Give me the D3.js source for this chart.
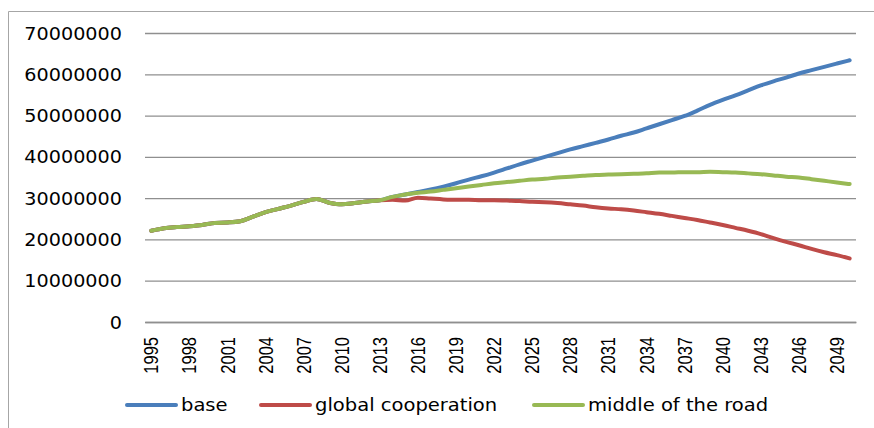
<!DOCTYPE html>
<html>
<head>
<meta charset="utf-8">
<script src="https://cdn.jsdelivr.net/npm/d3@7"></script>
<style>
  body { margin: 0; background: #fff; }
  svg { display: block; }
</style>
</head>
<body>
<svg id="chart" width="874" height="428"></svg>
<script>
const years = d3.range(1995, 2051);
const yTicks = [0, 10000000, 20000000, 30000000, 40000000, 50000000, 60000000, 70000000];
const seriesNames = ["base", "global cooperation", "middle of the road"];
const seriesColors = ["#4A7EBB", "#BE4B48", "#98B954"];

// values in millions
const history = [22.1, 22.7, 23.0, 23.2, 23.5, 24.0, 24.1, 24.4, 25.5, 26.6, 27.4, 28.2, 29.1, 29.8, 28.9, 28.5, 28.8, 29.2, 29.5];
const baseFuture = [30.3, 30.9, 31.5, 32.1, 32.8, 33.6, 34.5, 35.3, 36.2, 37.2, 38.2, 39.1, 40.0, 40.9, 41.8, 42.6, 43.4,
  44.2, 45.1, 45.9, 46.9, 47.9, 48.9, 49.9, 51.2, 52.6, 53.8, 54.9, 56.1, 57.3, 58.3, 59.2, 60.2, 61.0, 61.8, 62.6, 63.4];
const globalFuture = [29.6, 29.4, 30.1, 29.9, 29.7, 29.6, 29.6, 29.5, 29.5, 29.4, 29.3, 29.1, 29.0, 28.8, 28.5, 28.2, 27.8,
  27.5, 27.3, 27.0, 26.6, 26.2, 25.7, 25.2, 24.7, 24.1, 23.5, 22.8, 22.1, 21.3, 20.3, 19.4, 18.6, 17.7, 16.9, 16.2, 15.4];
const middleFuture = [30.3, 30.9, 31.3, 31.6, 32.0, 32.4, 32.8, 33.2, 33.6, 33.9, 34.2, 34.5, 34.7, 35.0, 35.2, 35.4, 35.6,
  35.7, 35.8, 35.9, 36.0, 36.2, 36.2, 36.3, 36.3, 36.4, 36.3, 36.2, 36.0, 35.8, 35.5, 35.2, 35.0, 34.6, 34.2, 33.8, 33.4];

const baseValues = history.concat(baseFuture).map(v => v * 1e6);
const globalValues = history.concat(globalFuture).map(v => v * 1e6);
const middleValues = history.concat(middleFuture).map(v => v * 1e6);
const seriesValues = [baseValues, globalValues, middleValues];
const xTickLabels = years.filter((yr, i) => i % 3 === 0);

(function () {
const svg = d3.select("#chart");
const mLeft = 145, mRight = 856, mTop = 33, mBottom = 322;

// frame
svg.append("path")
  .attr("d", "M8.5,428 L8.5,11.5 L874,11.5")
  .attr("fill", "none").attr("stroke", "#a6a6a6").attr("stroke-width", 1);

const x = d3.scaleBand().domain(years).range([mLeft, mRight]).padding(0);
const y = d3.scaleLinear().domain([0, 70000000]).range([mBottom, mTop]);
const cx = d => x(d) + x.bandwidth() / 2;

// gridlines + y labels
const yAxis = svg.append("g").attr("transform", `translate(${mLeft},0)`)
  .call(d3.axisLeft(y).tickValues(yTicks).tickSize(-(mRight - mLeft)).tickFormat(d3.format("d")));
yAxis.select(".domain").remove();
yAxis.selectAll(".tick line").attr("stroke", "#8f8f8f").attr("stroke-width", 1.3);
yAxis.selectAll(".tick text")
  .attr("x", 0).attr("dy", "0.36em")
  .attr("transform", "translate(-23,0) scale(1.13,1)")
  .attr("fill", "#000")
  .style("font-family", "'DejaVu Sans', sans-serif").style("font-size", "17px");

// x axis
const xAxis = svg.append("g").attr("transform", `translate(0,${mBottom})`)
  .call(d3.axisBottom(x).tickValues(xTickLabels).tickSize(0));
xAxis.select(".domain").attr("stroke", "#8f8f8f").attr("stroke-width", 1.3);
xAxis.selectAll(".tick text")
  .attr("transform", "rotate(-90) scale(1,1.18)")
  .attr("x", -15).attr("y", 0).attr("dy", "0.36em")
  .attr("text-anchor", "end")
  .attr("fill", "#000")
  .style("font-family", "'Liberation Sans', Arial, sans-serif").style("font-size", "16.5px");

// lines
const line = d3.line().x((d, i) => cx(years[i])).y(d => y(d)).curve(d3.curveMonotoneX);
seriesValues.forEach((vals, k) => {
  svg.append("path").datum(vals)
    .attr("d", line)
    .attr("fill", "none")
    .attr("stroke", seriesColors[k])
    .attr("stroke-width", 4)
    .attr("stroke-linecap", "round")
    .attr("stroke-linejoin", "round");
});

// legend
const legendX = [127, 261, 534];
const legendY = 405;
const legend = svg.append("g");
seriesNames.forEach((name, k) => {
  legend.append("line")
    .attr("x1", legendX[k]).attr("x2", legendX[k] + 49)
    .attr("y1", legendY).attr("y2", legendY)
    .attr("stroke", seriesColors[k]).attr("stroke-width", 4).attr("stroke-linecap", "round");
  legend.append("text")
    .attr("transform", `translate(${legendX[k] + 54},${legendY + 6}) scale(1.15,1)`)
    .attr("fill", "#000")
    .style("font-family", "'DejaVu Sans', sans-serif").style("font-size", "17px")
    .text(name);
});
})();
</script>
</body>
</html>
